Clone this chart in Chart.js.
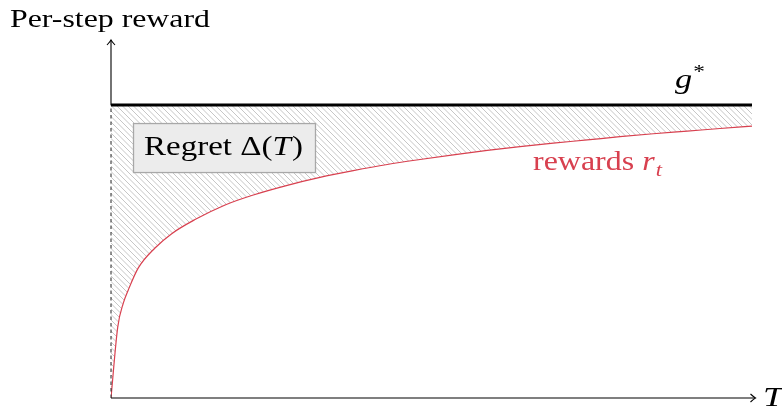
<!DOCTYPE html>
<html>
<head>
<meta charset="utf-8">
<script src="https://cdn.jsdelivr.net/npm/chart.js@4/dist/chart.umd.min.js"></script>
<style>
  html, body { margin: 0; padding: 0; background: #ffffff; }
  #wrap { width: 782px; height: 415px; position: relative; }
</style>
</head>
<body>
<div id="wrap"><canvas id="c" width="782" height="415"></canvas></div>
<script>
// ---- data ----
const T_VALUES = [0, 1.05, 1.92, 2.70, 4.26, 6.86, 9.47, 13.1, 17.8, 22.2, 27.5, 32.6, 37.8, 43.1, 48.2, 53.4, 58.7, 63.8, 69.0, 74.3, 79.4, 84.6, 89.9, 95.0, 100];
const REWARDS  = [0, 0.242, 0.324, 0.369, 0.444, 0.512, 0.561, 0.609, 0.659, 0.693, 0.726, 0.753, 0.776, 0.797, 0.814, 0.830, 0.845, 0.858, 0.870, 0.881, 0.892, 0.902, 0.911, 0.920, 0.928];
const G_STAR = 1;
const T_RANGE = [0, 100];
const Y_RANGE = [0, 1.222];

const Y_TITLE = 'Per-step reward';
const X_TITLE = 'T';
const REGRET_LABEL = 'Regret Δ(';
const REWARD_LABEL = 'rewards ';

const RED = '#d8404f';
const SERIF = '"Liberation Serif", "DejaVu Serif", serif';

// hatch pattern (north-west lines)
function makeHatch() {
  const s = 11, step = 5.5;
  const c = document.createElement('canvas');
  c.width = s; c.height = s;
  const g = c.getContext('2d');
  g.strokeStyle = '#c6c6c6';
  g.lineWidth = 1;
  for (let off = -s; off <= s; off += step) {
    g.beginPath();
    g.moveTo(off - 1, -1);
    g.lineTo(off + s + 1, s + 1);
    g.stroke();
  }
  return document.getElementById('c').getContext('2d').createPattern(c, 'repeat');
}

function drawParts(ctx, parts, left, baseline, width) {
  let natural = 0;
  for (const p of parts) { ctx.font = p.font; natural += ctx.measureText(p.text).width + (p.dx || 0); }
  const sx = width ? width / natural : 1;
  ctx.save();
  ctx.translate(left, baseline);
  ctx.scale(sx, 1);
  let x = 0;
  for (const p of parts) {
    ctx.font = p.font;
    ctx.fillStyle = p.color || '#000';
    ctx.textBaseline = 'alphabetic';
    ctx.textAlign = 'left';
    ctx.fillText(p.text, x + (p.dx || 0), p.dy || 0);
    x += ctx.measureText(p.text).width + (p.dx || 0);
  }
  ctx.restore();
}

function arrowHead(ctx, x, y, dir) {
  ctx.save();
  ctx.translate(x, y);
  if (dir === 'up') ctx.rotate(-Math.PI / 2);
  ctx.beginPath();
  ctx.moveTo(-5, -4);
  ctx.quadraticCurveTo(-1.5, -0.8, 0, 0);
  ctx.quadraticCurveTo(-1.5, 0.8, -5, 4);
  ctx.lineWidth = 1.1;
  ctx.strokeStyle = '#000';
  ctx.stroke();
  ctx.restore();
}

const decor = {
  id: 'decor',
  afterDatasetsDraw(chart) {
    const ctx = chart.ctx;
    const xs = chart.scales.x, ys = chart.scales.y;
    const x0 = xs.getPixelForValue(T_RANGE[0]);
    const x1 = xs.getPixelForValue(T_RANGE[1]);
    const y0 = ys.getPixelForValue(0);
    const yg = ys.getPixelForValue(G_STAR);
    const yTop = chart.chartArea.top;

    ctx.save();
    ctx.strokeStyle = '#000';
    ctx.lineWidth = 1.1;
    ctx.beginPath();
    ctx.moveTo(x0, y0); ctx.lineTo(x1 + 3, y0); ctx.stroke();
    arrowHead(ctx, x1 + 3.5, y0, 'right');
    ctx.beginPath();
    ctx.moveTo(x0, yg); ctx.lineTo(x0, yTop); ctx.stroke();
    arrowHead(ctx, x0, yTop, 'up');
    ctx.lineWidth = 1;
    ctx.strokeStyle = '#222';
    ctx.setLineDash([3.5, 3]);
    ctx.beginPath();
    ctx.moveTo(x0, y0); ctx.lineTo(x0, yg); ctx.stroke();
    ctx.setLineDash([]);
    ctx.restore();

    // g* line
    ctx.save();
    ctx.strokeStyle = '#000';
    ctx.lineWidth = 3;
    ctx.beginPath();
    ctx.moveTo(x0, yg); ctx.lineTo(x1, yg); ctx.stroke();
    ctx.restore();

    drawParts(ctx, [{ text: Y_TITLE, font: '25px ' + SERIF }], 10, 27, 200);
    drawParts(ctx, [{ text: X_TITLE, font: 'italic 27px ' + SERIF }], x1 + 11, y0 + 8, 20);

    drawParts(ctx, [
      { text: 'g', font: 'italic 28px ' + SERIF },
      { text: '*', font: '19px ' + SERIF, dy: -10, dx: 1 }
    ], x1 - 77, yg - 17, 30);

    drawParts(ctx, [
      { text: REWARD_LABEL, font: '27px ' + SERIF, color: RED },
      { text: 'r', font: 'italic 27px ' + SERIF, color: RED },
      { text: 't', font: 'italic 19px ' + SERIF, color: RED, dy: 6, dx: 1 }
    ], x1 - 219, yg + 65, 129);

    ctx.save();
    ctx.fillStyle = '#ececec';
    ctx.strokeStyle = '#a8a8a8';
    ctx.lineWidth = 1.3;
    ctx.fillRect(x0 + 22.5, yg + 18.5, 182, 49);
    ctx.strokeRect(x0 + 22.5, yg + 18.5, 182, 49);
    ctx.restore();
    drawParts(ctx, [
      { text: REGRET_LABEL, font: '28px ' + SERIF },
      { text: 'T', font: 'italic 28px ' + SERIF },
      { text: ')', font: '28px ' + SERIF, dx: 1 }
    ], x0 + 33, yg + 50, 159);
  }
};

const points = T_VALUES.map((t, i) => ({ x: t, y: REWARDS[i] }));

new Chart(document.getElementById('c'), {
  type: 'line',
  data: {
    datasets: [
      {
        label: 'rewards',
        data: points,
        borderColor: RED,
        borderWidth: 1.2,
        pointRadius: 0,
        cubicInterpolationMode: 'monotone',
        fill: { value: G_STAR },
        backgroundColor: makeHatch()
      }
    ]
  },
  options: {
    responsive: false,
    animation: false,
    devicePixelRatio: 1,
    layout: { padding: { left: 111, right: 30, top: 40, bottom: 17 } },
    plugins: { legend: { display: false }, tooltip: { enabled: false } },
    scales: {
      x: { type: 'linear', min: T_RANGE[0], max: T_RANGE[1], display: false },
      y: { type: 'linear', min: Y_RANGE[0], max: Y_RANGE[1], display: false }
    }
  },
  plugins: [decor]
});
</script>
</body>
</html>
